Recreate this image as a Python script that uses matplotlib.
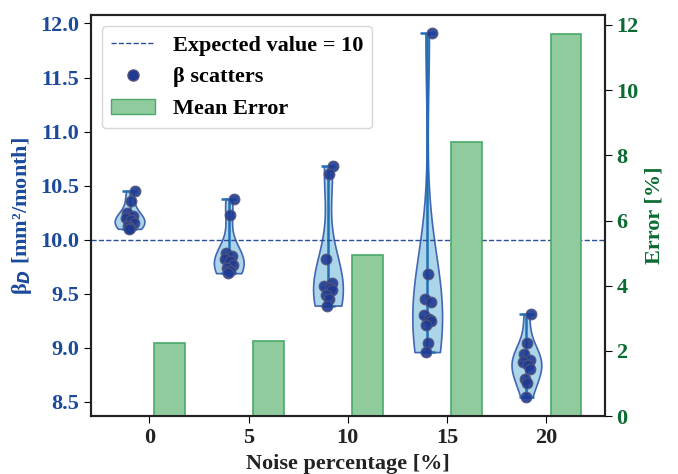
import matplotlib.pyplot as plt
from matplotlib.lines import Line2D
from matplotlib.patches import Patch

plt.rcParams['font.family'] = ['Liberation Serif', 'DejaVu Serif']
plt.rcParams['font.weight'] = 'bold'
plt.rcParams['axes.labelweight'] = 'bold'
plt.rcParams['mathtext.fontset'] = 'dejavusans'

noise = [0, 5, 10, 15, 20]

beta_0 = [10.45, 10.36, 10.25, 10.22, 10.20, 10.18, 10.15, 10.13, 10.11, 10.10]
beta_5 = [10.38, 10.23, 9.88, 9.85, 9.82, 9.80, 9.77, 9.74, 9.71, 9.69]
beta_10 = [10.68, 10.61, 9.82, 9.60, 9.57, 9.55, 9.53, 9.49, 9.45, 9.39]
beta_15 = [11.91, 9.68, 9.45, 9.42, 9.30, 9.27, 9.25, 9.21, 9.04, 8.96]
beta_20 = [9.31, 9.04, 8.94, 8.89, 8.87, 8.84, 8.80, 8.71, 8.67, 8.54]

# horizontal spread of the dots around each violin
jitter = [0.25, 0.05, -0.12, 0.18, -0.18, 0.08, 0.2, -0.08, 0.04, -0.04]

mean_error = [2.24, 2.30, 4.94, 8.40, 11.72]

BLUE_TXT = '#1b4a9c'
GREEN_TXT = '#0b6b32'

fig = plt.figure(figsize=(6.78, 4.74), dpi=100)
ax = fig.add_axes([0.134, 0.122, 0.758, 0.846])
ax2 = ax.twinx()

betas = [beta_0, beta_5, beta_10, beta_15, beta_20]
vpos = [n - 1 for n in noise]
parts = ax.violinplot(betas, positions=vpos, widths=1.5,
                      showmedians=True, showextrema=True)
for body in parts['bodies']:
    body.set_facecolor('#a9d3e8')
    body.set_edgecolor('#3a5fb0')
    body.set_linewidth(1.2)
    body.set_alpha(0.95)
for key in ['cbars', 'cmins', 'cmaxes', 'cmedians']:
    parts[key].set_color('#1f6fb4')
    parts[key].set_linewidth(1.8)

for p, vals in zip(vpos, betas):
    xs = [p + j for j in jitter[:len(vals)]]
    ax.scatter(xs, vals, s=60, color='#1f3a93', edgecolor='#555577',
               linewidth=0.8, alpha=0.9, zorder=3)

ax.axhline(10, color='#2a4d9a', linestyle='--', linewidth=1)

ax2.bar([n + 1 for n in noise], mean_error, width=1.55,
        color='#90cb9e', edgecolor='#4aaa6a', linewidth=1.2)

ax.set_xlim(-2.95, 22.95)
ax.set_ylim(8.367, 12.077)
ax2.set_ylim(0, 12.3)
ax.set_xticks(noise)
ax.set_yticks([8.5, 9.0, 9.5, 10.0, 10.5, 11.0, 11.5, 12.0])
ax2.set_yticks([0, 2, 4, 6, 8, 10, 12])

ax.tick_params(axis='x', labelsize=16, labelcolor='#222222', length=5)
ax.tick_params(axis='y', labelsize=16, labelcolor=BLUE_TXT, length=5)
ax2.tick_params(axis='y', labelsize=16, labelcolor=GREEN_TXT, length=5)

ax.set_xlabel('Noise percentage [%]', fontsize=16, color='#222222')
ax.set_ylabel(r'β$_\mathit{D}$ [mm²/month]', fontsize=16, color=BLUE_TXT)
ax2.set_ylabel('Error [%]', fontsize=16, color=GREEN_TXT)

for a in (ax, ax2):
    for s in a.spines.values():
        s.set_linewidth(1.5)
        s.set_color('#222222')

handles = [
    Line2D([0], [0], color='#2a4d9a', linestyle='--', linewidth=1),
    Line2D([0], [0], marker='o', linestyle='none', markersize=8,
           markerfacecolor='#1f3a93', markeredgecolor='#555577'),
    Patch(facecolor='#90cb9e', edgecolor='#4aaa6a'),
]
labels = ['Expected value = 10', 'β scatters', 'Mean Error']
ax2.legend(handles, labels, loc='upper left', fontsize=16)

fig.savefig('out.png', dpi=100)
